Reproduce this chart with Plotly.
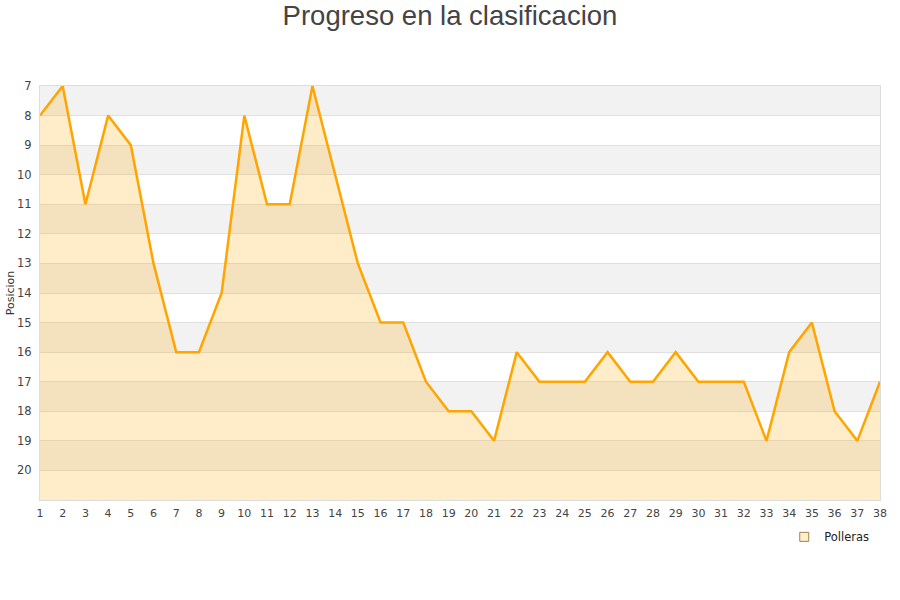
import plotly.graph_objects as go

jornadas = list(range(1, 39))
posiciones = [8, 7, 11, 8, 9, 13, 16, 16, 14, 8, 11, 11, 7, 10, 13, 15, 15, 17, 18, 18,
              19, 16, 17, 17, 17, 16, 17, 17, 16, 17, 17, 17, 19, 16, 15, 18, 19, 17]
serie = "Polleras"
y_min, y_max = 7, 21
y_ticks = list(range(7, 21))

fig = go.Figure()

# alternating bands
for b in range(7, 21, 2):
    fig.add_shape(type="rect", xref="paper", yref="y", x0=0, x1=1, y0=b, y1=b + 1,
                  fillcolor="#f2f2f2", line_width=0, layer="below")

# baseline for fill
fig.add_trace(go.Scatter(x=jornadas, y=[y_max] * len(jornadas), mode="lines",
                         line=dict(width=0, color="rgba(0,0,0,0)"), showlegend=False,
                         hoverinfo="skip"))
fig.add_trace(go.Scatter(x=jornadas, y=posiciones, mode="lines", name=serie,
                         line=dict(color="#ffa500", width=2.5),
                         fill="tonexty", fillcolor="rgba(255,165,0,0.21)",
                         showlegend=False))
# legend entry
fig.add_trace(go.Scatter(x=[None], y=[None], mode="markers", name=serie,
                         marker=dict(symbol="square", size=9, color="#ffeecc",
                                     line=dict(color="#a08050", width=1))))

fig.update_layout(
    width=900, height=600,
    paper_bgcolor="white", plot_bgcolor="white",
    margin=dict(l=40, r=20, t=86, b=100, autoexpand=False),
    title=dict(text="Progreso en la clasificacion", x=0.5, xanchor="center",
               y=0.975, yanchor="middle",
               font=dict(family="Liberation Sans, Arial", size=27.5, color="#444444")),
    font=dict(family="DejaVu Sans", size=11, color="#444444"),
    xaxis=dict(range=[1, 38], tickmode="array", tickvals=jornadas,
               ticktext=[str(j) for j in jornadas], showgrid=False, zeroline=False,
               showline=True, linecolor="#dddddd", linewidth=1, mirror=True,
               ticks="", ticklabelstandoff=3, automargin=False,
               tickfont=dict(size=11, color="#444444")),
    yaxis=dict(range=[y_max, y_min], tickmode="array", tickvals=y_ticks,
               showgrid=True, gridcolor="#e0e0e0", gridwidth=1, zeroline=False,
               showline=True, linecolor="#dddddd", linewidth=1, mirror=True,
               ticks="", ticklabelstandoff=5, automargin=False,
               title=dict(text="Posicion", font=dict(size=11, color="#333333"), standoff=0),
               tickfont=dict(size=11.5, color="#444444")),
    legend=dict(x=0.886, y=-0.089, xanchor="left", yanchor="middle",
                font=dict(family="DejaVu Sans", size=11.5, color="#222222"),
                bgcolor="rgba(0,0,0,0)"),
    showlegend=True,
)

fig.write_html("out.html", config={"displayModeBar": False},
               post_script="document.body.style.margin='0';")
